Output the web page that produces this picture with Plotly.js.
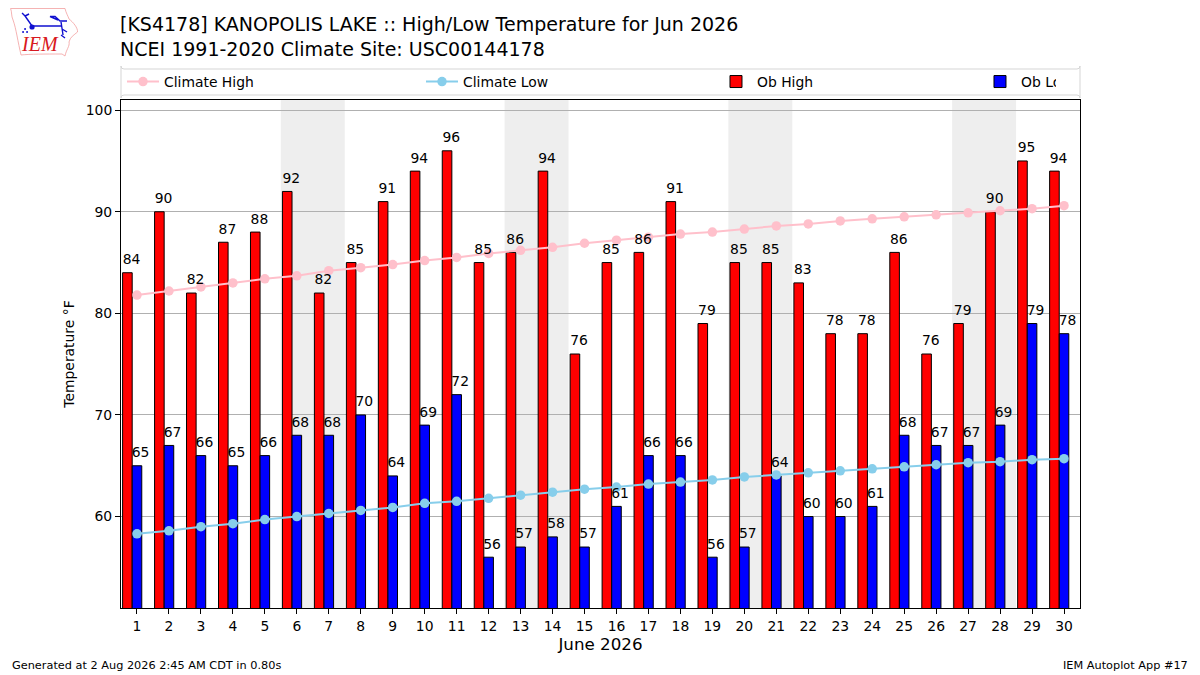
<!DOCTYPE html>
<html>
<head>
<meta charset="utf-8">
<script src="https://cdn.plot.ly/plotly-3.0.1.min.js"></script>
<style>
	html, body { margin: 0; padding: 0; background: white; }
</style>
</head>
<body>
<div id="chart" style="width:1200px;height:675px;"></div>
<script>
const DAYS         = [ 1, 2, 3, 4, 5, 6, 7, 8, 9, 10, 11, 12, 13, 14, 15, 16, 17, 18, 19, 20, 21, 22, 23, 24, 25, 26, 27, 28, 29, 30 ];
const OB_HIGH      = [ 84, 90, 82, 87, 88, 92, 82, 85, 91, 94, 96, 85, 86, 94, 76, 85, 86, 91, 79, 85, 85, 83, 78, 78, 86, 76, 79, 90, 95, 94 ];
const OB_LOW       = [ 65, 67, 66, 65, 66, 68, 68, 70, 64, 69, 72, 56, 57, 58, 57, 61, 66, 66, 56, 57, 64, 60, 60, 61, 68, 67, 67, 69, 79, 78 ];
const CLIMATE_HIGH = [ 81.8, 82.2, 82.6, 83.0, 83.4, 83.7, 84.2, 84.5, 84.8, 85.2, 85.5, 85.9, 86.2, 86.5, 86.9, 87.2, 87.5, 87.8, 88.0, 88.3, 88.6, 88.8, 89.1, 89.3, 89.5, 89.7, 89.9, 90.1, 90.3, 90.6 ];
const CLIMATE_LOW  = [ 58.3, 58.6, 59.0, 59.3, 59.7, 60.0, 60.3, 60.6, 60.9, 61.3, 61.5, 61.8, 62.1, 62.4, 62.7, 62.9, 63.2, 63.4, 63.6, 63.9, 64.1, 64.3, 64.5, 64.7, 64.9, 65.1, 65.3, 65.4, 65.6, 65.7 ];
const WEEKENDS     = [ [ 5.5, 7.5 ], [ 12.5, 14.5 ], [ 19.5, 21.5 ], [ 26.5, 28.5 ] ];

const FONT       = 'DejaVu Sans';
const BAR_WIDTH  = 0.3;
const HIGH_SHIFT = -0.3;
const HIGH_LABEL = -0.17;
const LOW_LABEL  = 0.11;
const LABEL_LIFT = 0.5;
const PLOT_W     = 959.5;
const PLOT_H     = 508;

const LOGO = '<svg xmlns="http://www.w3.org/2000/svg" width="204" height="150" viewBox="0 0 68 50">' +
	'<path d="M0.5,0.5 L55,0.5 C56,5 58,8 59,11 C63,14 68,20 67.5,24 C64,27 60,29 59,34 C60,38 56,42 55,48 L52,46 C35,46 20,46 11,47 C8,35 6,20 3,12 C1,8 2,4 0.5,0.5 Z" fill="white" stroke="#f2a0a0" stroke-width="0.8"/>' +
	'<path d="M22,18 H52 M48,12 L40,8.5 L45,8.5 L50,13 H57 M51,14 L53,27 M22,18 L15,8 M15,8 L12,5 M15,8 L19,6 M52,21 L57,24 M51,27 L55,30" stroke="#1010d0" stroke-width="1.4" fill="none"/>' +
	'<circle cx="22" cy="19" r="2.6" fill="#1010d0"/><circle cx="15" cy="21" r="1" fill="#1010d0"/><circle cx="17" cy="24" r="1" fill="#1010d0"/><circle cx="13" cy="24" r="1" fill="#1010d0"/>' +
	'<text x="12" y="43" font-family="Liberation Serif" font-style="italic" font-size="20" fill="#d81820">IEM</text></svg>';

function make_label_trace( values, shift ) {
	return {
		x: DAYS.map( d => d + shift ), y: values.map( v => v + LABEL_LIFT ),
		text: values.map( String ),
		mode: 'text', type: 'scatter', textposition: 'top center',
		textfont: { family: FONT, size: 13.9, color: 'black' },
		cliponaxis: false, showlegend: false, hoverinfo: 'skip'
	};
}

function make_weekend_shapes() {
	return WEEKENDS.map( w => ( {
		type: 'rect', layer: 'below', xref: 'x', yref: 'paper',
		x0: w[ 0 ], x1: w[ 1 ], y0: 0, y1: 1,
		fillcolor: '#eeeeee', line: { width: 0 }
	} ) );
}

// rounded box behind the legend, in paper fractions
function make_legend_box( top, bottom, r ) {
	const rx = r / PLOT_W;
	const ry = r / PLOT_H;
	const y0 = 1 + bottom / PLOT_H;
	const y1 = 1 + top / PLOT_H;
	return {
		type: 'path', xref: 'paper', yref: 'paper', layer: 'below',
		path: 'M' + rx + ',' + y0 + ' L' + ( 1 - rx ) + ',' + y0 + ' Q1,' + y0 + ' 1,' + ( y0 + ry ) +
			' L1,' + ( y1 - ry ) + ' Q1,' + y1 + ' ' + ( 1 - rx ) + ',' + y1 +
			' L' + rx + ',' + y1 + ' Q0,' + y1 + ' 0,' + ( y1 - ry ) +
			' L0,' + ( y0 + ry ) + ' Q0,' + y0 + ' ' + rx + ',' + y0 + ' Z',
		fillcolor: 'white', line: { color: '#d5d5d5', width: 1 }
	};
}

function make_footer( text, x, anchor ) {
	return {
		text: text, xref: 'paper', yref: 'paper',
		x: x, y: -57 / PLOT_H, xanchor: anchor, yanchor: 'middle', showarrow: false,
		font: { family: FONT, size: 11.3, color: 'black' }
	};
}

var traces = [
	{
		x: DAYS, y: CLIMATE_HIGH, name: 'Climate High', type: 'scatter', mode: 'lines+markers',
		line: { color: 'pink', width: 2 }, marker: { color: 'pink', size: 9.5 }, legendwidth: 252
	},
	{
		x: DAYS, y: CLIMATE_LOW, name: 'Climate Low', type: 'scatter', mode: 'lines+markers',
		line: { color: 'skyblue', width: 2 }, marker: { color: 'skyblue', size: 9.5 }, legendwidth: 247
	},
	{
		x: DAYS.map( d => d + HIGH_SHIFT ), y: OB_HIGH, name: 'Ob High', type: 'bar', width: BAR_WIDTH,
		marker: { color: 'red', line: { color: 'black', width: 1 } }, legendwidth: 217
	},
	{
		x: DAYS, y: OB_LOW, name: 'Ob Low', type: 'bar', width: BAR_WIDTH,
		marker: { color: 'blue', line: { color: 'black', width: 1 } }, legendwidth: 30
	},
	make_label_trace( OB_HIGH, HIGH_LABEL ),
	make_label_trace( OB_LOW, LOW_LABEL )
];

var layout = {
	width: 1200, height: 675,
	margin: { l: 120.5, r: 120, t: 100, b: 67, pad: 0 },
	paper_bgcolor: 'white', plot_bgcolor: 'white',
	barmode: 'overlay',
	font: { family: FONT, size: 13.9, color: 'black' },
	title: {
		text: '[KS4178] KANOPOLIS LAKE :: High/Low Temperature for Jun 2026<br>NCEI 1991-2020 Climate Site: USC00144178',
		x: 120 / 1200, xref: 'container', xanchor: 'left',
		y: 1 - 31 / 675, yref: 'container', yanchor: 'top',
		font: { family: FONT, size: 19, color: 'black' }
	},
	xaxis: {
		range: [ 0.5, 30.5 ], tickmode: 'array', tickvals: DAYS, ticktext: DAYS.map( String ),
		ticks: 'outside', ticklen: 5, tickcolor: 'black', tickwidth: 1,
		showgrid: false, zeroline: false, showline: true, mirror: true, linecolor: 'black', linewidth: 1,
		title: { text: 'June 2026', standoff: 5, font: { family: FONT, size: 16.7 } }
	},
	yaxis: {
		range: [ 51, 101 ], tickmode: 'array', tickvals: [ 60, 70, 80, 90, 100 ],
		ticks: 'outside', ticklen: 5, tickcolor: 'black', tickwidth: 1,
		showgrid: true, gridcolor: '#b0b0b0', gridwidth: 1, zeroline: false,
		showline: true, mirror: true, linecolor: 'black', linewidth: 1,
		title: { text: 'Temperature °F', standoff: 7, font: { family: FONT, size: 13.9 } }
	},
	legend: {
		orientation: 'h', x: 1 / PLOT_W, y: 1 + 18 / PLOT_H, xanchor: 'left', yanchor: 'middle',
		bgcolor: 'rgba(0,0,0,0)', borderwidth: 0, traceorder: 'normal',
		itemwidth: 32, font: { family: FONT, size: 13.9 }
	},
	shapes: make_weekend_shapes().concat( [ make_legend_box( 5, 31, 3 ) ] ),
	annotations: [
		make_footer( 'Generated at 2 Aug 2026 2:45 AM CDT in 0.80s', -111.5 / PLOT_W, 'left' ),
		make_footer( 'IEM Autoplot App #17', 1 + 110 / PLOT_W, 'right' )
	],
	images: [ {
		source: 'data:image/svg+xml;utf8,' + encodeURIComponent( LOGO ),
		xref: 'paper', yref: 'paper', x: -111 / PLOT_W, y: 1 + 92 / PLOT_H,
		sizex: 68 / PLOT_W, sizey: 50 / PLOT_H, xanchor: 'left', yanchor: 'top', sizing: 'stretch', layer: 'above'
	} ]
};

Plotly.newPlot( 'chart', traces, layout, { displayModeBar: false, responsive: false } ).then( function() {
	// plotly draws bar legend swatches as small squares, stretch them
	document.querySelectorAll( '.legend path.legendbar' ).forEach( function( p ) {
		p.setAttribute( 'd', 'M15,5H-15V-5H15Z' );
	} );
} );
</script>
</body>
</html>
